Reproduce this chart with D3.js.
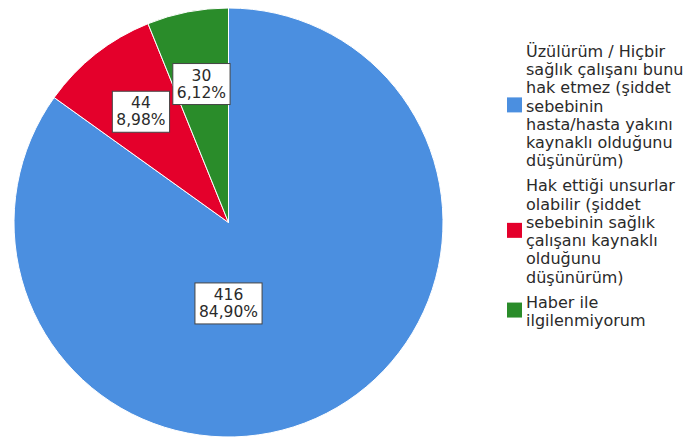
<!DOCTYPE html>
<html>
<head>
<meta charset="utf-8">
<script src="https://cdn.jsdelivr.net/npm/d3@7"></script>
<style>
  html, body { margin: 0; padding: 0; background: #ffffff; }
  svg { display: block; }
  text { font-family: "DejaVu Sans", Verdana, sans-serif; }
</style>
</head>
<body>
<svg id="chart" width="688" height="441"></svg>
<script>
// Response categories (legend lines) and counts
const categoryLines = [
  ["Üzülürüm / Hiçbir", "sağlık çalışanı bunu", "hak etmez (şiddet", "sebebinin", "hasta/hasta yakını", "kaynaklı olduğunu", "düşünürüm)"],
  ["Hak ettiği unsurlar", "olabilir (şiddet", "sebebinin sağlık", "çalışanı kaynaklı", "olduğunu", "düşünürüm)"],
  ["Haber ile", "ilgilenmiyorum"]
];
const counts = [416, 44, 30];
const colors = ["#4b8fe0", "#e4002b", "#2a8c2a"];

const svg = d3.select("#chart");
const cx = 228.5, cy = 222.5, R = 214.5;

const total = d3.sum(counts);
const fmtPct = v => (v / total * 100).toFixed(2).replace(".", ",") + "%";

const pie = d3.pie().sort(null).startAngle(0).endAngle(2 * Math.PI);
const arcs = pie(counts);
const arc = d3.arc().innerRadius(0).outerRadius(R);

const g = svg.append("g").attr("transform", `translate(${cx},${cy})`);

g.selectAll("path.slice")
  .data(arcs)
  .join("path")
  .attr("class", "slice")
  .attr("d", arc)
  .attr("fill", (d, i) => colors[i])
  .attr("stroke", "#ffffff")
  .attr("stroke-width", 1);

// Label anchors: the large slice's label sits straight below the centre,
// the small slices use their mid-angle.
const labelRadius = [0.375, 0.66, 0.66];
const labelAngle = (d, i) => i === 0 ? Math.PI : (d.startAngle + d.endAngle) / 2;

const labels = g.selectAll("g.lbl")
  .data(arcs)
  .join("g")
  .attr("class", "lbl")
  .attr("transform", (d, i) => {
    const a = labelAngle(d, i), r = labelRadius[i] * R;
    return `translate(${Math.sin(a) * r},${-Math.cos(a) * r})`;
  });

labels.each(function (d) {
  const sel = d3.select(this);
  const rect = sel.append("rect")
    .attr("fill", "#ffffff")
    .attr("stroke", "#444")
    .attr("stroke-width", 1);
  const t = sel.append("text")
    .attr("text-anchor", "middle")
    .attr("fill", "#2a2a2a")
    .style("font-size", "15.5px");
  t.append("tspan").attr("x", 0).attr("y", -3).text(d.data);
  t.append("tspan").attr("x", 0).attr("y", 14).text(fmtPct(d.data));
  const bb = t.node().getBBox();
  const w = bb.width + 8, h = 41;
  rect.attr("x", -w / 2).attr("y", -20).attr("width", w).attr("height", h);
});

// Legend
const lineH = 18.3, itemGap = 6.5, legendX = 507, textX = 526, sq = 15;
let y = 51;
const legend = svg.append("g");
categoryLines.forEach((lines, i) => {
  const first = y, last = y + (lines.length - 1) * lineH;
  const mid = (first + last) / 2;
  legend.append("rect")
    .attr("x", legendX).attr("y", mid - sq / 2 - 1)
    .attr("width", sq).attr("height", sq)
    .attr("fill", colors[i]);
  lines.forEach((ln, j) => {
    legend.append("text")
      .attr("x", textX)
      .attr("y", first + j * lineH)
      .attr("dy", "0.35em")
      .attr("fill", "#2a2a2a")
      .style("font-size", "16px")
      .text(ln);
  });
  y = last + lineH + itemGap;
});
</script>
</body>
</html>
